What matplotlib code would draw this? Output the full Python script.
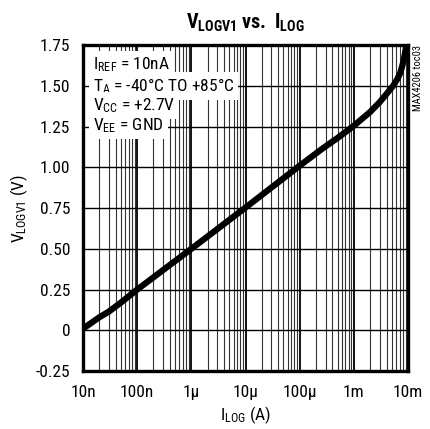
"""
VLOGV1 vs. ILOG chart
"""

import matplotlib
matplotlib.use("Agg")
import matplotlib.pyplot as plt
from matplotlib import font_manager
from matplotlib.ticker import FixedLocator, NullFormatter

# curve: current (A) and output voltage (V)
i_log = [10e-9, 20e-9, 30e-9, 50e-9, 100e-9, 1e-6, 10e-6, 100e-6, 251e-6,
         500e-6, 1e-3, 2e-3, 3e-3, 4e-3, 5.3e-3, 6.3e-3, 7.2e-3, 8.3e-3,
         9.0e-3, 9.5e-3, 9.9e-3]
v_logv1 = [0.01, 0.08, 0.115, 0.17, 0.25, 0.50, 0.753, 1.01, 1.11,
           1.18, 1.255, 1.34, 1.40, 1.45, 1.50, 1.54, 1.58, 1.655,
           1.72, 1.78, 1.84]

x_ticks = [1e-8, 1e-7, 1e-6, 1e-5, 1e-4, 1e-3, 1e-2]
x_tick_labels = ["10n", "100n", "1\u00b5", "10\u00b5", "100\u00b5", "1m", "10m"]
y_ticks = [-0.25, 0, 0.25, 0.5, 0.75, 1.0, 1.25, 1.5, 1.75]
y_tick_labels = ["-0.25", "0", "0.25", "0.50", "0.75", "1.00", "1.25", "1.50", "1.75"]

notes = [r"$\mathrm{I_{REF}}$ = 10nA",
         r"$\mathrm{T_{A}}$ = -40°C TO +85°C",
         r"$\mathrm{V_{CC}}$ = +2.7V",
         r"$\mathrm{V_{EE}}$ = GND"]

names = {f.name for f in font_manager.fontManager.ttflist}
narrow = "Roboto Condensed" in names
font = "Roboto Condensed" if narrow else "Liberation Sans"
fs = 12.5 if narrow else 11
plt.rcParams["font.family"] = [font, "DejaVu Sans"]
plt.rcParams["mathtext.fontset"] = "custom"
plt.rcParams["mathtext.rm"] = font
plt.rcParams["mathtext.bf"] = font + ":bold"

fig = plt.figure(figsize=(4.30, 4.29), dpi=100, facecolor="white")
ax = fig.add_axes([0.193, 0.135, 0.756, 0.760])

ax.plot(i_log, v_logv1, color="black", linewidth=4.5, solid_capstyle="butt", zorder=3)

ax.set_xscale("log")
ax.set_xlim(1e-8, 1e-2)
ax.set_ylim(-0.25, 1.75)
ax.xaxis.set_major_locator(FixedLocator(x_ticks))
ax.set_xticklabels(x_tick_labels)
minor = [m * d for d in x_ticks[:-1] for m in range(2, 10)]
ax.xaxis.set_minor_locator(FixedLocator(minor))
ax.xaxis.set_minor_formatter(NullFormatter())
ax.set_yticks(y_ticks)
ax.set_yticklabels(y_tick_labels)

ax.grid(True, which="major", axis="x", color="black", linewidth=1.3)
ax.grid(True, which="minor", axis="x", color="#333333", linewidth=0.8)
ax.grid(True, which="major", axis="y", color="black", linewidth=1.0)
ax.tick_params(which="both", length=0, labelsize=fs)
ax.tick_params(axis="y", pad=9)
ax.tick_params(axis="x", pad=10)
for spine in ax.spines.values():
    spine.set_linewidth(2.4)
    spine.set_zorder(4)

for k, line in enumerate(notes):
    ax.text(0.03, 0.968 - k * 0.0625, line, transform=ax.transAxes, fontsize=fs,
            va="top", ha="left", zorder=5,
            bbox=dict(facecolor="white", edgecolor="none", pad=3))

ax.set_title(r"$\mathbf{V_{LOGV1}}$ $\mathbf{vs.}$ $\mathbf{I_{LOG}}$", fontsize=fs + 2, pad=12)
ax.set_xlabel(r"$\mathrm{I_{LOG}}$ (A)", fontsize=fs, labelpad=3)
ax.set_ylabel(r"$\mathrm{V_{LOGV1}}$ (V)", fontsize=fs, labelpad=4)

fig.text(0.972, 0.895, "MAX4206 toc03", rotation=90, fontsize=7.5, va="top", ha="center")

fig.savefig("out.png", dpi=100, facecolor=fig.get_facecolor())
plt.close(fig)
